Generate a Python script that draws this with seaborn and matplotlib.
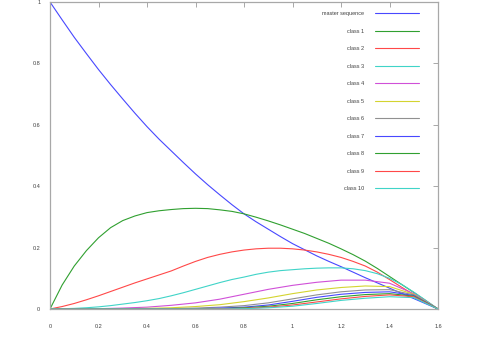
import numpy as np
import pandas as pd
import matplotlib
matplotlib.use("Agg")
import matplotlib.pyplot as plt
import seaborn as sns

x_fine = [0.0, 0.05, 0.1, 0.15, 0.2, 0.25, 0.3, 0.35, 0.4, 0.45, 0.5, 0.55, 0.6, 0.65, 0.7, 0.75, 0.8,
          0.85, 0.9, 0.95, 1.0, 1.05, 1.1, 1.15, 1.2, 1.25, 1.3, 1.35, 1.4, 1.45, 1.5, 1.55, 1.6]
x_coarse = [0.0, 0.1, 0.2, 0.3, 0.4, 0.5, 0.6, 0.7, 0.8, 0.9, 1.0, 1.1, 1.2, 1.3, 1.4, 1.5, 1.6]

master = [1.0, 0.942, 0.885, 0.832, 0.78, 0.731, 0.684, 0.638, 0.594, 0.553, 0.515, 0.477, 0.44, 0.405,
          0.372, 0.34, 0.31, 0.284, 0.26, 0.236, 0.213, 0.193, 0.173, 0.155, 0.138, 0.12, 0.102, 0.085,
          0.068, 0.051, 0.034, 0.017, 0.0]
class1 = [0.0, 0.078, 0.14, 0.19, 0.232, 0.265, 0.288, 0.303, 0.314, 0.32, 0.324, 0.327, 0.328, 0.327,
          0.323, 0.318, 0.31, 0.299, 0.287, 0.274, 0.26, 0.246, 0.23, 0.214, 0.196, 0.177, 0.156, 0.132,
          0.106, 0.08, 0.054, 0.027, 0.0]
class2 = [0.0, 0.008, 0.018, 0.03, 0.043, 0.057, 0.071, 0.085, 0.098, 0.111, 0.124, 0.14, 0.155, 0.168,
          0.178, 0.186, 0.192, 0.196, 0.198, 0.198, 0.196, 0.192, 0.186, 0.178, 0.168, 0.155, 0.14, 0.12,
          0.096, 0.071, 0.047, 0.023, 0.0]
class3 = [0.0, 0.001, 0.002, 0.004, 0.007, 0.011, 0.016, 0.021, 0.027, 0.034, 0.043, 0.053, 0.064, 0.075,
          0.086, 0.096, 0.104, 0.113, 0.12, 0.125, 0.128, 0.131, 0.133, 0.134, 0.134, 0.131, 0.125, 0.115,
          0.1, 0.08, 0.055, 0.028, 0.0]
class4 = [0.0, 0.0, 0.001, 0.003, 0.006, 0.012, 0.02, 0.032, 0.048, 0.064, 0.077, 0.087, 0.094, 0.094, 0.084, 0.05, 0.0]
class5 = [0.0, 0.0, 0.0, 0.001, 0.002, 0.004, 0.008, 0.014, 0.024, 0.036, 0.05, 0.062, 0.07, 0.075, 0.073, 0.048, 0.0]
class6 = [0.0, 0.0, 0.0, 0.0, 0.0, 0.001, 0.003, 0.006, 0.011, 0.02, 0.033, 0.046, 0.056, 0.062, 0.063, 0.046, 0.0]
class7 = [0.0, 0.0, 0.0, 0.0, 0.0, 0.0, 0.001, 0.003, 0.006, 0.013, 0.025, 0.038, 0.048, 0.054, 0.056, 0.044, 0.0]
class8 = [0.0, 0.0, 0.0, 0.0, 0.0, 0.0, 0.0, 0.001, 0.004, 0.009, 0.018, 0.03, 0.04, 0.047, 0.05, 0.042, 0.0]
class9 = [0.0, 0.0, 0.0, 0.0, 0.0, 0.0, 0.0, 0.001, 0.002, 0.006, 0.013, 0.023, 0.033, 0.041, 0.046, 0.04, 0.0]
class10 = [0.0, 0.0, 0.0, 0.0, 0.0, 0.0, 0.0, 0.0, 0.001, 0.004, 0.009, 0.018, 0.028, 0.035, 0.04, 0.037, 0.0]

series_names = ["master sequence", "class 1", "class 2", "class 3", "class 4", "class 5",
                "class 6", "class 7", "class 8", "class 9", "class 10"]
series_values = [master, class1, class2, class3, class4, class5,
                 class6, class7, class8, class9, class10]
series_x = [x_fine, x_fine, x_fine, x_fine] + [x_coarse] * 7

x_ticks = [0, 0.2, 0.4, 0.6, 0.8, 1, 1.2, 1.4, 1.6]
x_tick_labels = ["0", "0.2", "0.4", "0.6", "0.8", "1", "1.2", "1.4", "1.6"]
y_ticks = [0, 0.2, 0.4, 0.6, 0.8, 1]
y_tick_labels = ["0", "0.2", "0.4", "0.6", "0.8", "1"]

cycle = ["#4848ff", "#30a030", "#ff4848", "#40d4c8", "#d050d8", "#d4d430", "#909090"]
palette = {name: cycle[i % len(cycle)] for i, name in enumerate(series_names)}

rows = []
for name, xs, vals in zip(series_names, series_x, series_values):
    for xv, yv in zip(xs, vals):
        rows.append({"x": xv, "y": yv, "series": name})
df = pd.DataFrame(rows)

sns.set_style("white")
plt.rcParams["font.family"] = ["Liberation Sans", "DejaVu Sans"]

fig = plt.figure(figsize=(4.79, 3.38), dpi=100)
ax = fig.add_axes([50 / 479, 1 - 309 / 338, 388 / 479, 307 / 338])

sns.lineplot(data=df, x="x", y="y", hue="series", hue_order=series_names,
             palette=palette, linewidth=0.8, ax=ax, sort=False, estimator=None)

ax.set_xlim(0, 1.6)
ax.set_ylim(0, 1)
ax.set_xticks(x_ticks)
ax.set_xticklabels(x_tick_labels)
ax.set_yticks(y_ticks)
ax.set_yticklabels(y_tick_labels)
ax.set_xlabel("")
ax.set_ylabel("")

for sp in ax.spines.values():
    sp.set_visible(True)
    sp.set_color("#a8a8a8")
    sp.set_linewidth(0.9)

ax.tick_params(axis="both", which="both", direction="in", length=3.5, width=0.7,
               color="#a8a8a8", labelsize=4, labelcolor="#404040",
               top=True, right=True)
ax.tick_params(axis="y", pad=7)
ax.tick_params(axis="x", pad=11)

leg = ax.legend(loc="upper right", bbox_to_anchor=((419 - 50) / 388, (309 - 11.3) / 307),
                frameon=False, markerfirst=False, fontsize=4,
                handlelength=7.9, handletextpad=2.0, labelspacing=2.25,
                borderpad=0, borderaxespad=0)
for t in leg.get_texts():
    t.set_color("#404040")
for h in leg.get_lines():
    h.set_linewidth(0.8)

fig.savefig("out.png", dpi=100)
